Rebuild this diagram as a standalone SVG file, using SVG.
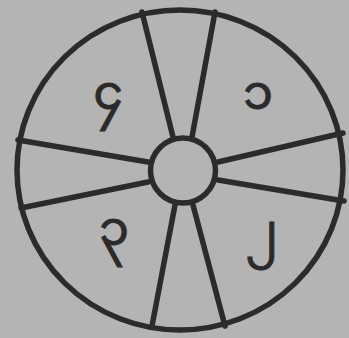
<svg xmlns="http://www.w3.org/2000/svg" width="349" height="338" viewBox="0 0 349 338">
<style>
.ln{stroke:#2b2b2b;stroke-width:5.5;fill:none;stroke-linecap:round}
.lbl{font-family:"Noto Sans Myanmar","Padauk","Myanmar Text","Noto Sans",sans-serif;font-size:48px;fill:#2b2b2b;stroke:#2b2b2b;stroke-width:1;text-anchor:middle}
</style>
<rect width="349" height="338" fill="#b4b4b4"/>
<g id="outer"><ellipse class="ln" cx="180" cy="170" rx="163" ry="160"/></g>
<g id="connectors">
<line class="ln" x1="142" y1="12" x2="173" y2="137"/>
<line class="ln" x1="215" y1="12" x2="192" y2="137"/>
<line class="ln" x1="218" y1="162" x2="343" y2="133"/>
<line class="ln" x1="218" y1="180" x2="344" y2="201"/>
<line class="ln" x1="193" y1="205" x2="225" y2="326"/>
<line class="ln" x1="175" y1="205" x2="152" y2="326"/>
<line class="ln" x1="148" y1="182" x2="21" y2="208"/>
<line class="ln" x1="148" y1="162" x2="18" y2="140"/>
</g>
<g id="hub"><circle class="ln" cx="183" cy="170.5" r="32.5" fill="#b4b4b4"/></g>
<g id="n1"><text class="lbl" x="258" y="109">၁</text></g>
<g id="n2"><text class="lbl" x="262" y="248">၂</text></g>
<g id="n3"><text class="lbl" x="114" y="245">၃</text></g>
<g id="n4"><text class="lbl" x="108" y="109">၄</text></g>
</svg>
